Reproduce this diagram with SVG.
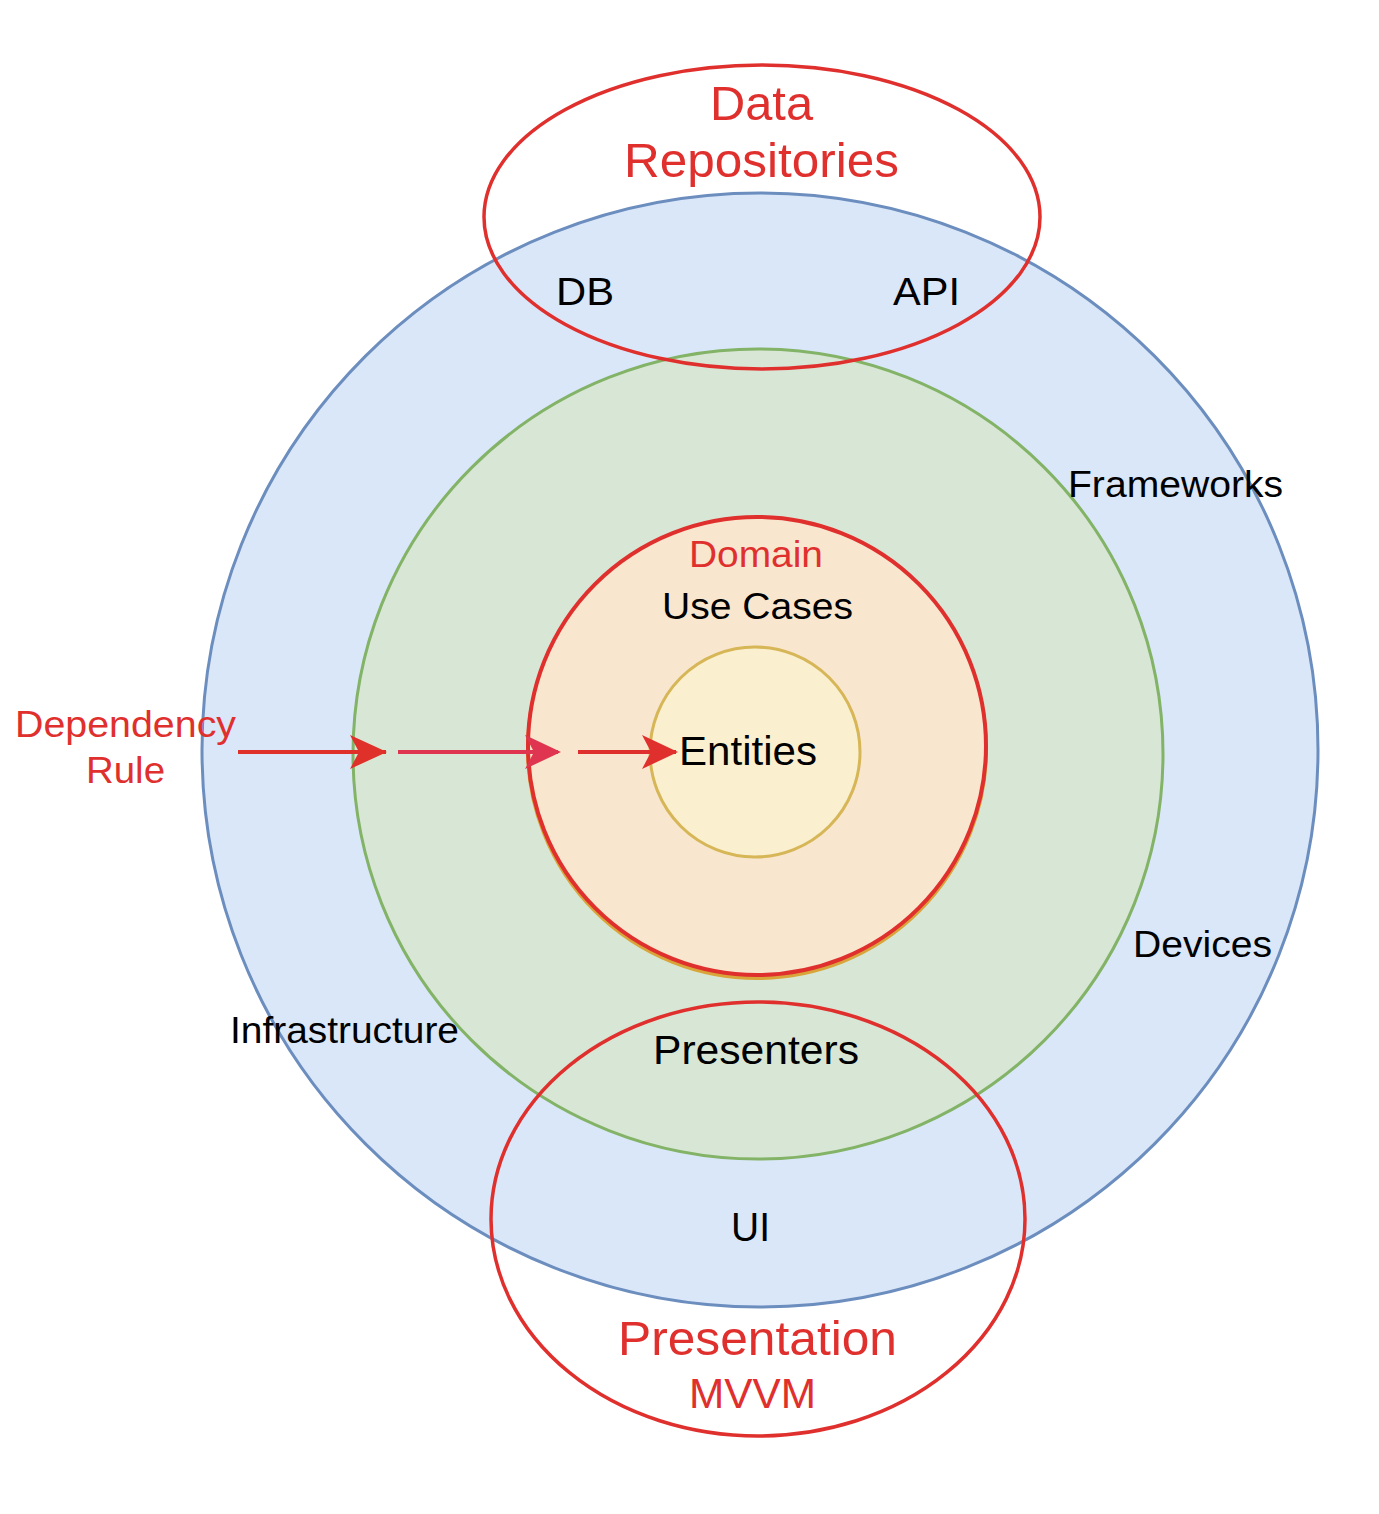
<svg xmlns="http://www.w3.org/2000/svg" width="1379" height="1514" viewBox="0 0 1379 1514">
<defs>
<style>
text{font-family:"Liberation Sans",Arial,sans-serif;text-anchor:middle}
.blk{fill:#000}
.red{fill:#e0302e}
.ring{fill:none;stroke:#e0302e;stroke-width:3.5}
</style>
</defs>
<rect width="1379" height="1514" fill="#fff"/>
<g id="infrastructure">
<ellipse cx="760" cy="750" rx="558" ry="557" fill="#dae7f9" stroke="#6c8ebf" stroke-width="3"/>
</g>
<g id="application">
<circle cx="758" cy="754" r="405" fill="#d8e6d5" stroke="#82b366" stroke-width="3"/>
</g>
<g id="domain">
<circle cx="757" cy="749" r="229" fill="#f8e6ce" stroke="#d9a53a" stroke-width="4"/>
<circle cx="757" cy="746" r="229" fill="#f8e6ce" stroke="#e0302e" stroke-width="4"/>
</g>
<g id="entities">
<circle cx="755" cy="752" r="105" fill="#faf0cf" stroke="#d6b656" stroke-width="3"/>
</g>
<g id="data-repositories">
<ellipse cx="762" cy="217" rx="278" ry="152" class="ring"/>
</g>
<g id="presentation">
<ellipse cx="758" cy="1219" rx="267" ry="217" class="ring"/>
</g>
<g id="connectors">
<path d="M238,752 L386,752" stroke="#e0302a" stroke-width="4"/>
<path d="M350,735 L387,752 L350,769 L359,752 Z" fill="#e0302a"/>
<path d="M398,752 L558,752" stroke="#e03550" stroke-width="4"/>
<path d="M525,735 L561,752 L525,769 L534,752 Z" fill="#e03550"/>
<path d="M578,752 L676,752" stroke="#e0302e" stroke-width="4"/>
<path d="M642,735 L678,752 L642,769 L651,752 Z" fill="#e0302e"/>
</g>
<g id="labels">
<text x="761.5" y="120" font-size="48" class="red" textLength="103" lengthAdjust="spacingAndGlyphs">Data</text>
<text x="761.5" y="177" font-size="48" class="red" textLength="275" lengthAdjust="spacingAndGlyphs">Repositories</text>
<text x="585" y="305" font-size="39" class="blk" textLength="58" lengthAdjust="spacingAndGlyphs">DB</text>
<text x="926.5" y="305" font-size="39" class="blk" textLength="67" lengthAdjust="spacingAndGlyphs">API</text>
<text x="1175.5" y="497" font-size="36" class="blk" textLength="215" lengthAdjust="spacingAndGlyphs">Frameworks</text>
<text x="756" y="567" font-size="36" class="red" textLength="134" lengthAdjust="spacingAndGlyphs">Domain</text>
<text x="757.5" y="619" font-size="37" class="blk" textLength="191" lengthAdjust="spacingAndGlyphs">Use Cases</text>
<text x="748" y="765" font-size="41" class="blk" textLength="138" lengthAdjust="spacingAndGlyphs">Entities</text>
<text x="125.5" y="737" font-size="37" class="red" textLength="221" lengthAdjust="spacingAndGlyphs">Dependency</text>
<text x="125.5" y="783" font-size="37" class="red" textLength="79" lengthAdjust="spacingAndGlyphs">Rule</text>
<text x="1202.5" y="957" font-size="36" class="blk" textLength="139" lengthAdjust="spacingAndGlyphs">Devices</text>
<text x="344.5" y="1043" font-size="36" class="blk" textLength="229" lengthAdjust="spacingAndGlyphs">Infrastructure</text>
<text x="756" y="1064" font-size="40" class="blk" textLength="206" lengthAdjust="spacingAndGlyphs">Presenters</text>
<text x="750.5" y="1241" font-size="40" class="blk" textLength="39" lengthAdjust="spacingAndGlyphs">UI</text>
<text x="757.5" y="1355" font-size="48" class="red" textLength="279" lengthAdjust="spacingAndGlyphs">Presentation</text>
<text x="752.5" y="1408" font-size="42" class="red" textLength="127" lengthAdjust="spacingAndGlyphs">MVVM</text>
</g>
</svg>
